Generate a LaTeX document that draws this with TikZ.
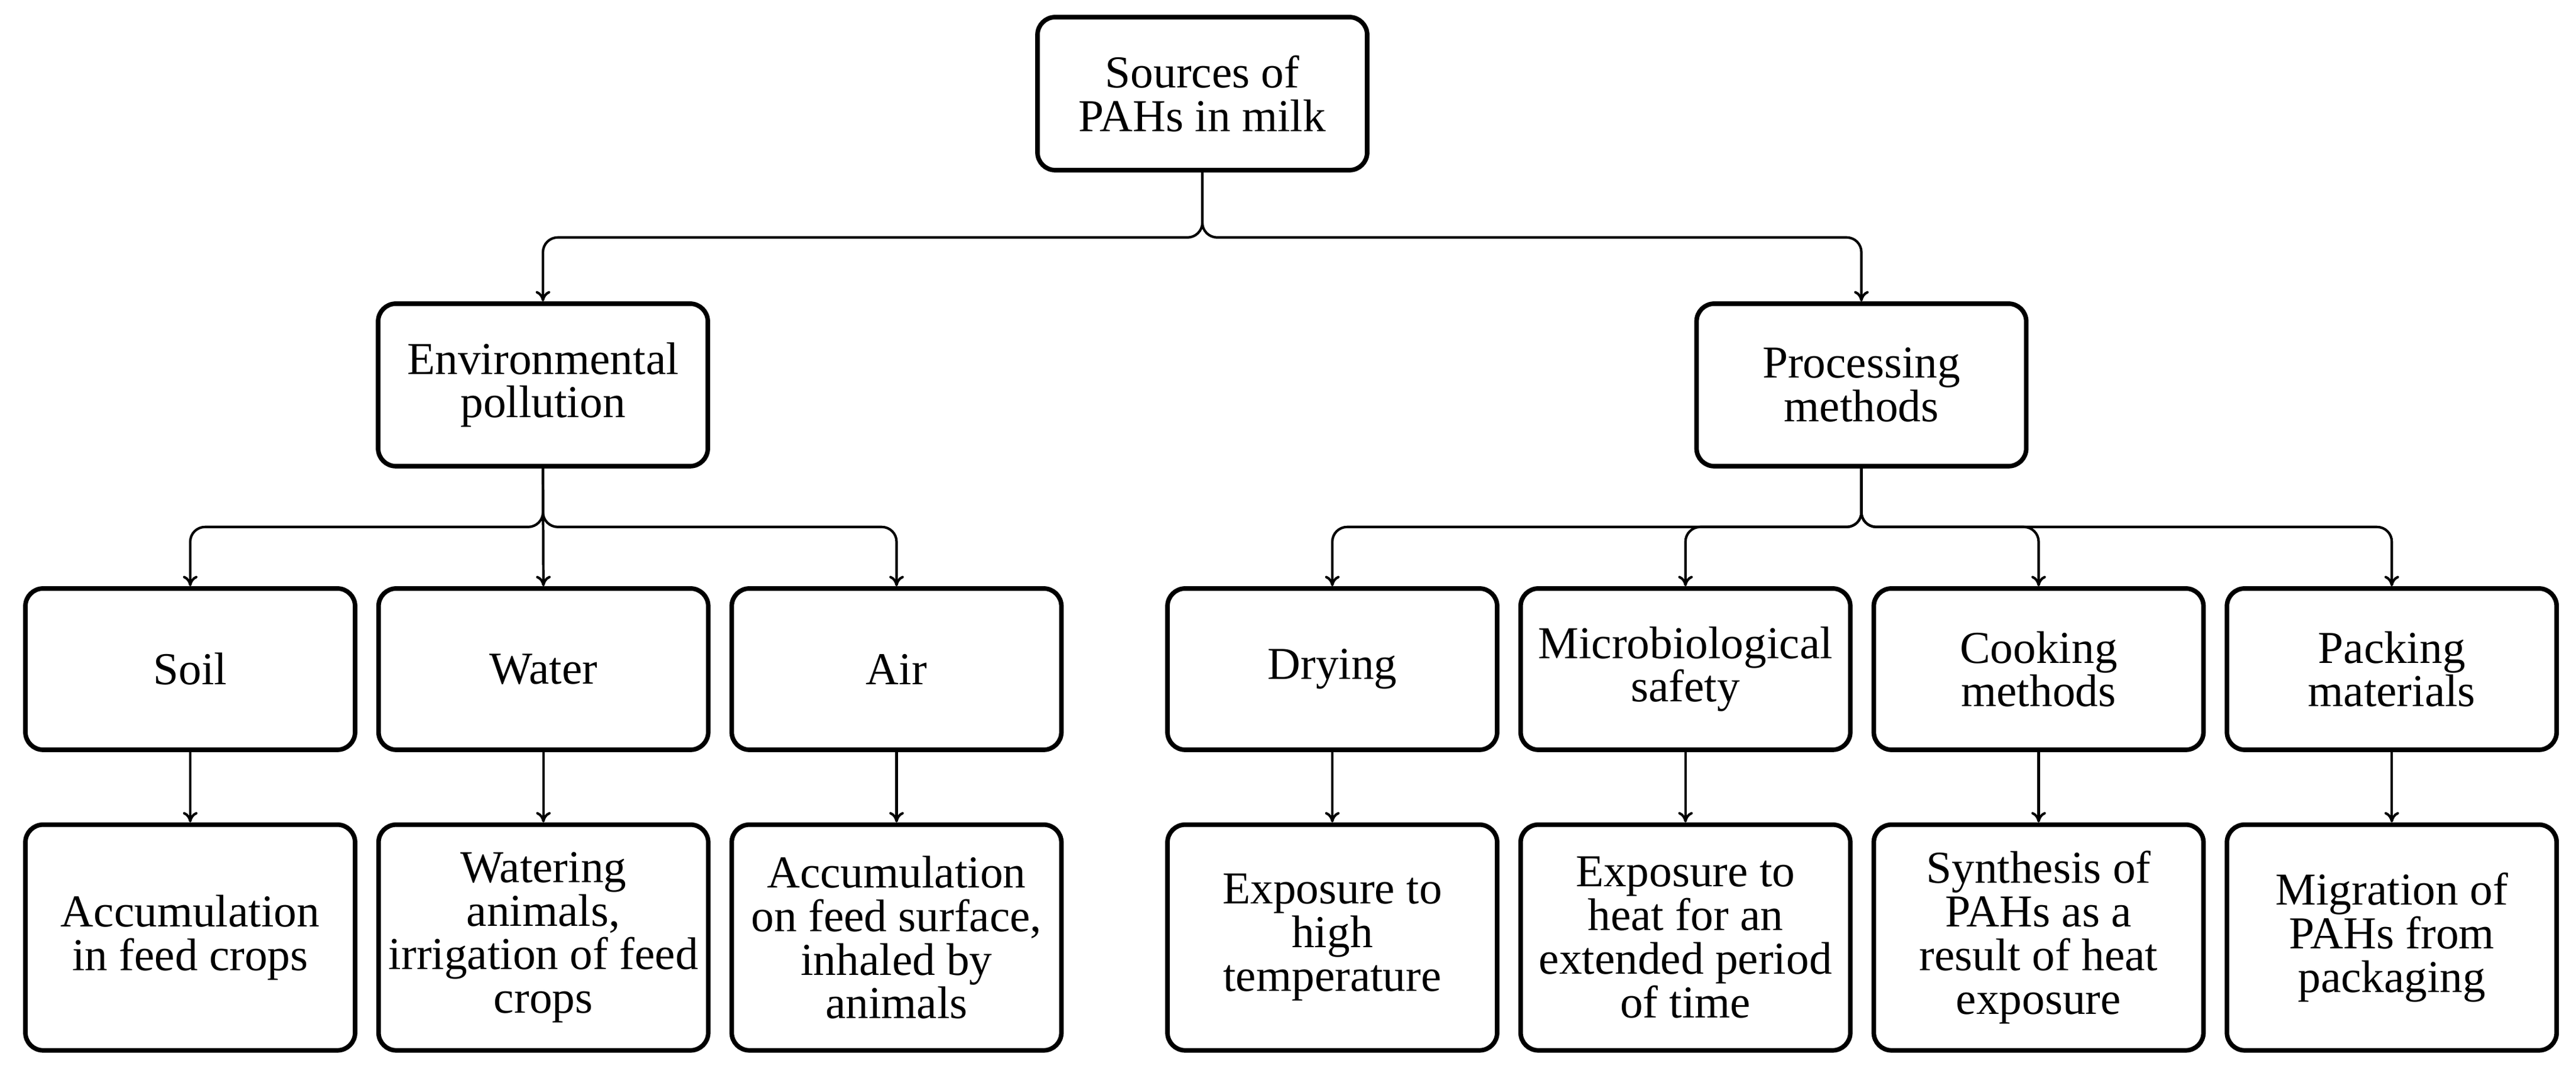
\documentclass[tikz,border=0pt]{standalone}
\usepackage{fontspec}
\setmainfont{Liberation Serif}
\usepackage{tikz}
\usetikzlibrary{arrows.meta}
\usetikzlibrary{positioning}

\begin{document}
\begin{tikzpicture}[node distance=0.32cm,
			box/.style={rectangle, rounded corners=0.3cm, draw, line width=2.2pt,
				minimum width=5.58cm, minimum height=2.73cm, align=center,
				inner sep=0pt, font=\fontsize{22}{21}\selectfont},
			conn/.style={line width=1.2pt, rounded corners=0.25cm,
				-{To[length=5pt,width=7pt]}}]
			
			\useasboundingbox (0,0) rectangle (43.6,18.16);
			
			% top
			\node[box, minimum height=2.59cm] (src) at (20.35,16.575) {Sources of\\PAHs in milk};
			\node[box, minimum height=2.75cm] (env) at (9.19,11.645) {Environmental\\pollution};
			\node[box, minimum height=2.75cm] (proc) at (31.505,11.645) {Processing\\methods};
			
			% sources
			\node[box] (soil) at (3.22,6.835) {Soil};
			\node[box] (water) [right=of soil] {Water};
			\node[box] (air) [right=of water] {Air};
			\node[box] (dry) at (22.55,6.835) {Drying};
			\node[box] (micro) [right=of dry] {Microbiological\\safety};
			\node[box] (cook) [right=of micro] {Cooking\\methods};
			\node[box] (pack) [right=of cook] {Packing\\materials};
			
			% effects
			\node[box, minimum height=3.82cm] (accum) [below=1.19cm of soil] {Accumulation\\in feed crops};
			\node[box, minimum height=3.82cm] (irrig) [below=1.19cm of water] {Watering\\animals,\\irrigation of feed\\crops};
			\node[box, minimum height=3.82cm] (inhal) [below=1.19cm of air] {Accumulation\\on feed surface,\\inhaled by\\animals};
			\node[box, minimum height=3.82cm] (hitemp) [below=1.19cm of dry] {Exposure to\\high\\temperature};
			\node[box, minimum height=3.82cm] (heat) [below=1.19cm of micro] {Exposure to\\heat for an\\extended period\\of time};
			\node[box, minimum height=3.82cm] (synth) [below=1.19cm of cook] {Synthesis of\\PAHs as a\\result of heat\\exposure};
			\node[box, minimum height=3.82cm] (migr) [below=1.19cm of pack] {Migration of\\PAHs from\\packaging};
			
			\draw[conn] (src.south) -- ++(0,-1.1) -| (env.north);
			\draw[conn] (src.south) -- ++(0,-1.1) -| (proc.north);
			
			\draw[conn] (env.south) -- ++(0,-0.99) -| (soil.north);
			\draw[conn] (env.south) -- (water.north);
			\draw[conn] (env.south) -- ++(0,-0.99) -| (air.north);
			
			\draw[conn] (proc.south) -- ++(0,-0.99) -| (dry.north);
			\draw[conn] (proc.south) -- ++(0,-0.99) -| (micro.north);
			\draw[conn] (proc.south) -- ++(0,-0.99) -| (cook.north);
			\draw[conn] (proc.south) -- ++(0,-0.99) -| (pack.north);
			
			\draw[conn] (soil) -- (accum);
			\draw[conn] (water) -- (irrig);
			\draw[conn] (air) -- (inhal);
			\draw[conn] (dry) -- (hitemp);
			\draw[conn] (micro) -- (heat);
			\draw[conn] (cook) -- (synth);
			\draw[conn] (pack) -- (migr);
			\end{tikzpicture}
\end{document}
